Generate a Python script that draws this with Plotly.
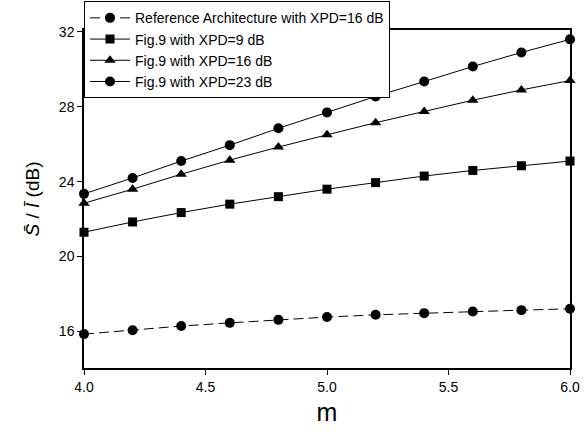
import plotly.graph_objects as go

m = [4.0, 4.2, 4.4, 4.6, 4.8, 5.0, 5.2, 5.4, 5.6, 5.8, 6.0]
ref_16 = [15.86, 16.07, 16.29, 16.46, 16.62, 16.77, 16.89, 16.98, 17.07, 17.14, 17.21]
fig9_9 = [21.3, 21.85, 22.35, 22.8, 23.2, 23.6, 23.95, 24.3, 24.6, 24.85, 25.1]
fig9_16 = [22.85, 23.6, 24.4, 25.15, 25.85, 26.5, 27.15, 27.75, 28.35, 28.9, 29.4]
fig9_23 = [23.35, 24.2, 25.1, 25.95, 26.85, 27.7, 28.55, 29.35, 30.15, 30.9, 31.6]

names = ["Reference Architecture with XPD=16 dB", "Fig.9 with XPD=9 dB",
         "Fig.9 with XPD=16 dB", "Fig.9 with XPD=23 dB"]
x_ticks = [4.0, 4.5, 5.0, 5.5, 6.0]
x_tick_text = ["4.0", "4.5", "5.0", "5.5", "6.0"]
y_ticks = [16, 20, 24, 28, 32]

fig = go.Figure()
series = [
    (ref_16, names[0], "circle", "10px,5px"),
    (fig9_9, names[1], "square", "solid"),
    (fig9_16, names[2], "triangle-up", "solid"),
    (fig9_23, names[3], "circle", "solid"),
]
for ys, nm, sym, dash in series:
    fig.add_trace(go.Scatter(
        x=m, y=ys, name=nm, mode="lines+markers",
        line=dict(color="black", width=1, dash=dash),
        marker=dict(symbol=sym, size=10 if sym != "square" else 9, color="black"),
        cliponaxis=False,
    ))

fig.update_layout(
    width=584, height=436,
    margin=dict(l=84, r=14, t=30, b=68, autoexpand=False),
    paper_bgcolor="white", plot_bgcolor="white",
    font=dict(family="Liberation Sans, Arial, sans-serif", color="black", size=14),
    showlegend=True,
    legend=dict(x=0, y=1.085, xanchor="left", yanchor="top",
                bgcolor="white", bordercolor="black", borderwidth=1,
                font=dict(size=14), tracegroupgap=0, itemwidth=40),
)
fig.update_xaxes(
    range=[4.0, 6.0], tickvals=x_ticks, ticktext=x_tick_text,
    showline=True, linecolor="black", linewidth=1.5, mirror=True,
    ticks="outside", ticklen=5, tickcolor="black", showgrid=False, zeroline=False,
    title=dict(text="m", font=dict(size=25), standoff=10),
    tickfont=dict(size=14),
)
fig.update_yaxes(
    range=[14.05, 32.1], tickvals=y_ticks,
    showline=True, linecolor="black", linewidth=1.5, mirror=True,
    ticks="outside", ticklen=5, tickcolor="black", showgrid=False, zeroline=False,
    title=dict(text="<i>S\u0304</i> / <i>\u012a</i> (dB)", font=dict(size=19), standoff=14),
    tickfont=dict(size=14),
)
fig.write_html("out.html", post_script="document.body.style.margin='0';",
               config={"displayModeBar": False})
